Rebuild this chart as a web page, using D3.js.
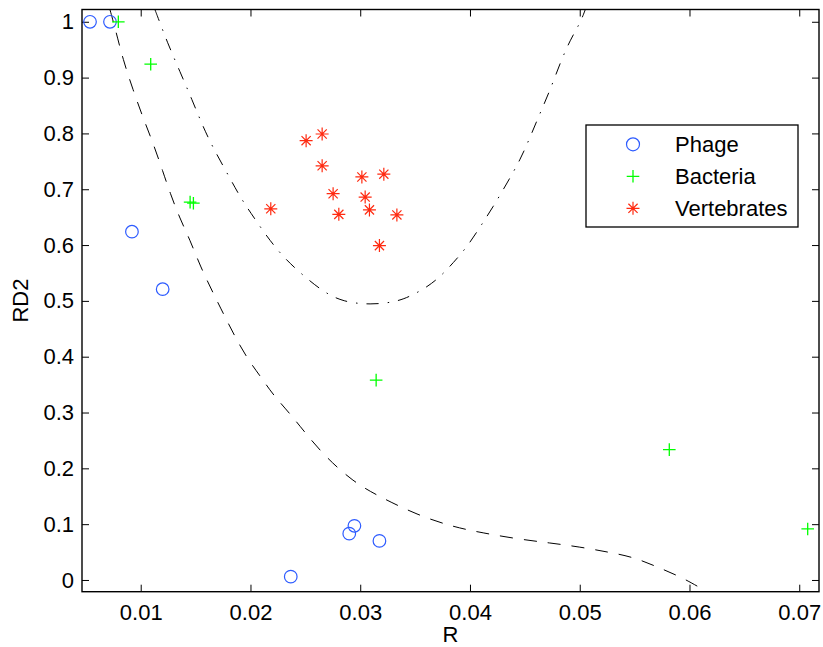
<!DOCTYPE html>
<html>
<head>
<meta charset="utf-8">
<script src="https://cdn.jsdelivr.net/npm/d3@7"></script>
<style>
  body { margin: 0; background: #fff; }
  text { font-family: "Liberation Sans", Arial, Helvetica, sans-serif; }
</style>
</head>
<body>
<div id="chart"></div>
<script>
// data
var phageR   = [0.00538, 0.0072, 0.0092, 0.0120, 0.02367, 0.0290, 0.02947, 0.03175];
var phageRD2 = [1.0, 1.0, 0.624, 0.521, 0.006, 0.083, 0.097, 0.070];

var bactR   = [0.00796, 0.01091, 0.0145, 0.0148, 0.03145, 0.05816, 0.07077];
var bactRD2 = [1.0, 0.924, 0.677, 0.675, 0.358, 0.2335, 0.0914];

var vertR   = [0.02507, 0.02653, 0.02653, 0.02185, 0.02753, 0.02805, 0.03015, 0.03215, 0.03045, 0.03084, 0.03334, 0.03175];
var vertRD2 = [0.787, 0.799, 0.742, 0.665, 0.692, 0.655, 0.722, 0.727, 0.686, 0.663, 0.654, 0.599];

// dashed boundary (phage / bacteria)
var dashR = [0.00720, 0.00766, 0.00839, 0.00930, 0.01021, 0.01112, 0.01203, 0.01267, 0.01358, 0.01449,
             0.01541, 0.01659, 0.01768, 0.01860, 0.01978, 0.02115, 0.02206, 0.02388, 0.02634, 0.02935,
             0.03181, 0.03519, 0.03847, 0.04120, 0.04430, 0.04731, 0.05005, 0.05251, 0.05488, 0.05707,
             0.05944, 0.06162];
var dashRD2 = [1.0215, 0.9892, 0.9319, 0.8781, 0.8280, 0.7832, 0.7312, 0.6935, 0.6470, 0.6093,
               0.5627, 0.5143, 0.4713, 0.4355, 0.3943, 0.3584, 0.3315, 0.2921, 0.2294, 0.1756,
               0.1487, 0.1165, 0.0950, 0.0842, 0.0735, 0.0663, 0.0591, 0.0502, 0.0412, 0.0233,
               0.0036, -0.0215];

// dash-dot boundary (vertebrates)
var dotR = [0.01130, 0.01158, 0.01240, 0.01358, 0.01468, 0.01568, 0.01659, 0.01796, 0.01905, 0.01996,
            0.02151, 0.02297, 0.02452, 0.02662, 0.02844, 0.03090, 0.03336, 0.03482, 0.03610, 0.03728,
            0.03847, 0.03974, 0.04093, 0.04211, 0.04339, 0.04458, 0.04549, 0.04640, 0.04731, 0.04822,
            0.04913, 0.05005, 0.05050];
var dotRD2 = [1.0215, 1.0072, 0.9642, 0.9104, 0.8602, 0.8118, 0.7742, 0.7258, 0.6864, 0.6595,
              0.6147, 0.5789, 0.5502, 0.5161, 0.4982, 0.4928, 0.4982, 0.5108, 0.5251, 0.5430,
              0.5681, 0.5968, 0.6326, 0.6685, 0.7115, 0.7527, 0.7939, 0.8369, 0.8781, 0.9265,
              0.9677, 0.9982, 1.0215];

var xTicks = [0.01, 0.02, 0.03, 0.04, 0.05, 0.06, 0.07];
var yTicks = [0, 0.1, 0.2, 0.3, 0.4, 0.5, 0.6, 0.7, 0.8, 0.9, 1];
var legendNames = ["Phage", "Bacteria", "Vertebrates"];

var w = 823, h = 647,
    padLeft = 82, padRight = 819, padTop = 9.5, padBottom = 591.7,
    fontSize = 22;

var blue = "#2d5bff", green = "#00ff00", red = "#ff2a10";

var xScale = d3.scaleLinear().domain([0.00465, 0.0718]).range([padLeft, padRight]);
var yScale = d3.scaleLinear().domain([-0.021, 1.022]).range([padBottom, padTop]);

var svg = d3.select("#chart").append("svg")
    .attr("width", w)
    .attr("height", h);

svg.append("clipPath").attr("id", "plotclip")
    .append("rect")
    .attr("x", padLeft).attr("y", padTop)
    .attr("width", padRight - padLeft).attr("height", padBottom - padTop);

function zip(a, b) { return a.map(function (d, i) { return [d, b[i]]; }); }

// axes, ticks pointing inward
var tickLen = 7;
svg.append("g").attr("class", "axis")
    .attr("transform", "translate(0," + padBottom + ")")
    .call(d3.axisBottom(xScale).tickValues(xTicks).tickSizeInner(-tickLen).tickSizeOuter(0)
        .tickPadding(12.3).tickFormat(d3.format(".2f")));
svg.append("g").attr("class", "axis")
    .attr("transform", "translate(0," + padTop + ")")
    .call(d3.axisTop(xScale).tickValues(xTicks).tickSizeInner(-tickLen).tickSizeOuter(0)
        .tickFormat(""));
svg.append("g").attr("class", "axis")
    .attr("transform", "translate(" + padLeft + ",0)")
    .call(d3.axisLeft(yScale).tickValues(yTicks).tickSizeInner(-tickLen).tickSizeOuter(0)
        .tickPadding(8).tickFormat(function (d) { return d3.format("~g")(d); }));
svg.append("g").attr("class", "axis")
    .attr("transform", "translate(" + padRight + ",0)")
    .call(d3.axisRight(yScale).tickValues(yTicks).tickSizeInner(-tickLen).tickSizeOuter(0)
        .tickFormat(""));

svg.selectAll(".axis .domain").remove();
svg.selectAll(".axis line").attr("stroke", "#000").attr("stroke-width", 1);
svg.selectAll(".axis text")
    .attr("font-size", fontSize)
    .attr("font-family", "'Liberation Sans', Arial, sans-serif")
    .attr("fill", "#000");

// boundary curves
var line = d3.line()
    .x(function (d) { return xScale(d[0]); })
    .y(function (d) { return yScale(d[1]); })
    .curve(d3.curveBasis);

var curves = svg.append("g").attr("clip-path", "url(#plotclip)");
curves.append("path")
    .attr("d", line(zip(dashR, dashRD2)))
    .attr("fill", "none").attr("stroke", "#000").attr("stroke-width", 1)
    .attr("stroke-dasharray", "13,11");
curves.append("path")
    .attr("d", line(zip(dotR, dotRD2)))
    .attr("fill", "none").attr("stroke", "#000").attr("stroke-width", 1)
    .attr("stroke-dasharray", "12,9,1.5,9");

// markers
var plusPath = "M-6.3,0H6.3M0,-6.3V6.3";
var starPath = (function () {
    var r = 6.5, p = "";
    [0, 45, 90, 135].forEach(function (a) {
        var c = Math.cos(a * Math.PI / 180) * r, s = Math.sin(a * Math.PI / 180) * r;
        p += "M" + (-c) + "," + (-s) + "L" + c + "," + s;
    });
    return p;
})();

var marks = svg.append("g");
marks.selectAll("circle.phage")
    .data(zip(phageR, phageRD2))
    .enter().append("circle")
    .attr("class", "phage")
    .attr("cx", function (d) { return xScale(d[0]); })
    .attr("cy", function (d) { return yScale(d[1]); })
    .attr("r", 6.3)
    .attr("fill", "none").attr("stroke", blue).attr("stroke-width", 1.2);

marks.selectAll("path.bact")
    .data(zip(bactR, bactRD2))
    .enter().append("path")
    .attr("class", "bact")
    .attr("transform", function (d) { return "translate(" + xScale(d[0]) + "," + yScale(d[1]) + ")"; })
    .attr("d", plusPath)
    .attr("fill", "none").attr("stroke", green).attr("stroke-width", 1.3);

marks.selectAll("path.vert")
    .data(zip(vertR, vertRD2))
    .enter().append("path")
    .attr("class", "vert")
    .attr("transform", function (d) { return "translate(" + xScale(d[0]) + "," + yScale(d[1]) + ")"; })
    .attr("d", starPath)
    .attr("fill", "none").attr("stroke", red).attr("stroke-width", 1.2);

// plot box
svg.append("rect")
    .attr("x", padLeft).attr("y", padTop)
    .attr("width", padRight - padLeft).attr("height", padBottom - padTop)
    .attr("fill", "none").attr("stroke", "#000").attr("stroke-width", 1.4);

// axis labels
svg.append("text")
    .attr("x", (padLeft + padRight) / 2).attr("y", 642)
    .attr("text-anchor", "middle").attr("font-size", fontSize)
    .text("R");
svg.append("text")
    .attr("transform", "translate(28," + (padTop + padBottom) / 2 + ") rotate(-90)")
    .attr("text-anchor", "middle").attr("font-size", fontSize)
    .text("RD2");

// legend
var legend = svg.append("g");
legend.append("rect")
    .attr("x", 586).attr("y", 125).attr("width", 212).attr("height", 102)
    .attr("fill", "#fff").attr("stroke", "#000").attr("stroke-width", 1.3);

var rowY = d3.scalePoint().domain(legendNames).range([144.3, 208.3]);
legendNames.forEach(function (name, i) {
    var y = rowY(name);
    if (i === 0) {
        legend.append("circle").attr("cx", 633).attr("cy", y).attr("r", 6.5)
            .attr("fill", "none").attr("stroke", blue).attr("stroke-width", 1.2);
    } else if (i === 1) {
        legend.append("path").attr("transform", "translate(633," + y + ")").attr("d", plusPath)
            .attr("fill", "none").attr("stroke", green).attr("stroke-width", 1.3);
    } else {
        legend.append("path").attr("transform", "translate(633," + y + ")").attr("d", starPath)
            .attr("fill", "none").attr("stroke", red).attr("stroke-width", 1.2);
    }
    legend.append("text")
        .attr("x", 675).attr("y", y).attr("dy", "0.35em")
        .attr("font-size", fontSize)
        .text(name);
});
</script>
</body>
</html>
